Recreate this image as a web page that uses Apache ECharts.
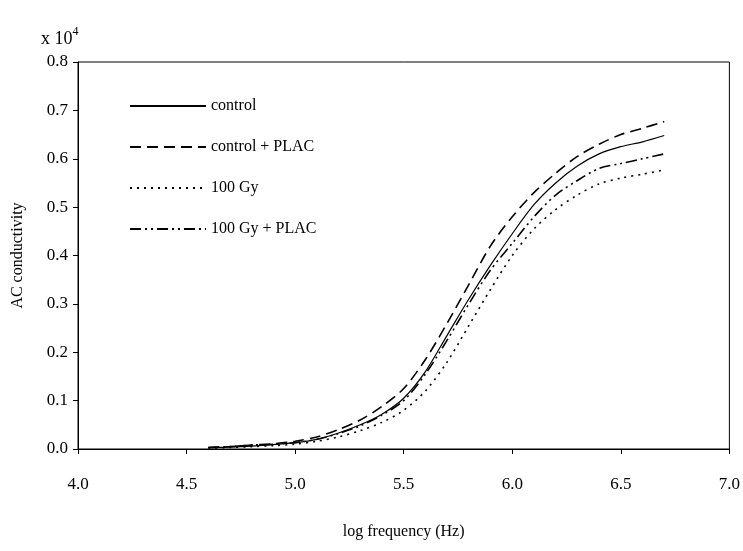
<!DOCTYPE html>
<html><head><meta charset="utf-8">
<script src="https://cdn.jsdelivr.net/npm/echarts@6/dist/echarts.min.js"></script>
<style>html,body{margin:0;padding:0;background:#fff}#c{width:743px;height:551px}</style>
</head><body><div id="c"></div>
<script>
const logFreq = [4.6,4.7,4.8,4.9,5.0,5.1,5.2,5.3,5.4,5.5,5.6,5.7,5.8,5.9,6.0,6.1,6.2,6.3,6.4,6.5,6.6,6.7];
const control = [0.003,0.004,0.006,0.009,0.013,0.02,0.033,0.05,0.072,0.105,0.16,0.235,0.31,0.38,0.445,0.505,0.55,0.585,0.61,0.625,0.635,0.648];
const controlPlac = [0.003,0.005,0.008,0.011,0.016,0.025,0.04,0.06,0.088,0.125,0.185,0.26,0.34,0.42,0.48,0.53,0.57,0.605,0.63,0.65,0.663,0.677];
const gy100 = [0.002,0.003,0.005,0.007,0.01,0.016,0.025,0.038,0.055,0.08,0.12,0.18,0.255,0.33,0.4,0.455,0.495,0.525,0.548,0.56,0.568,0.577];
const gy100Plac = [0.003,0.005,0.008,0.01,0.013,0.02,0.032,0.048,0.07,0.1,0.155,0.225,0.3,0.37,0.425,0.48,0.525,0.555,0.58,0.59,0.6,0.61];
const seriesNames = ['control','control + PLAC','100 Gy','100 Gy + PLAC'];

const font = 'Liberation Serif';
const pair = arr => logFreq.map((x,i)=>[x,arr[i]]);
const mk = (name, arr, type) => ({
  name, type:'line', data: pair(arr), symbol:'none', smooth:0.3,
  itemStyle:{color:'#000'},
  lineStyle:{color:'#000', width: type==='solid'?1.2:1.6, type}
});
const chart = echarts.init(document.getElementById('c'));
chart.setOption({
  animation:false,
  color:['#000','#000','#000','#000'],
  textStyle:{fontFamily:font},
  grid:{left:78,right:9,top:62,bottom:102,show:true,borderColor:'#000',borderWidth:1},
  title:{text:'x 10{s|4}',left:36,top:21,textStyle:{fontFamily:font,fontSize:18,fontWeight:'normal',color:'#000',rich:{s:{fontSize:12,verticalAlign:'top',padding:[0,0,14,0],fontFamily:font}}}},
  legend:{orient:'vertical',left:124,top:93,itemWidth:76,itemHeight:12,itemGap:25,
    itemStyle:{opacity:0},
    textStyle:{fontFamily:font,fontSize:16,color:'#000'},
    data:seriesNames},
  xAxis:{type:'value',min:4,max:7,interval:0.5,name:'log frequency (Hz)',nameLocation:'middle',nameGap:75,
    nameTextStyle:{fontFamily:font,fontSize:16,color:'#000'},
    axisLine:{lineStyle:{color:'#000'}},axisTick:{length:5,lineStyle:{color:'#000'}},
    axisLabel:{formatter:v=>v.toFixed(1),fontFamily:font,fontSize:17,color:'#000',margin:27},splitLine:{show:false}},
  yAxis:{type:'value',min:0,max:0.8,interval:0.1,name:'AC conductivity',nameLocation:'middle',nameGap:52,
    nameTextStyle:{fontFamily:font,fontSize:16,color:'#000'},
    axisLine:{show:true,lineStyle:{color:'#000'}},axisTick:{show:true,length:5,lineStyle:{color:'#000'}},
    axisLabel:{formatter:v=>v.toFixed(1),fontFamily:font,fontSize:17,color:'#000',margin:10},splitLine:{show:false}},
  series:[
    mk(seriesNames[0],control,'solid'),
    mk(seriesNames[1],controlPlac,[11,6]),
    mk(seriesNames[2],gy100,[2,5]),
    mk(seriesNames[3],gy100Plac,[11,4,2,4,2,4])
  ]
});
</script></body></html>
